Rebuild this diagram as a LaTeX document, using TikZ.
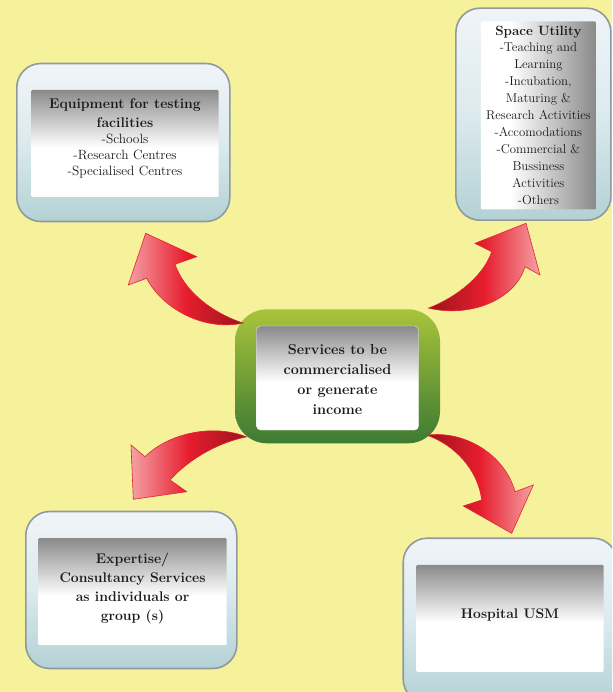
\documentclass[tikz,border=0pt]{standalone}
\usepackage{tikz}
\usetikzlibrary{positioning, shadows}
\usepackage{xcolor}

\definecolor{bgyellow}{HTML}{F6F29C}
\definecolor{boxedge}{HTML}{8F999E}
\definecolor{outertop}{HTML}{F0F4F8}
\definecolor{outermid}{HTML}{DCEAEE}
\definecolor{outerbot}{HTML}{B3D1D4}
\definecolor{graytop}{HTML}{8A8A8A}
\definecolor{hubtop}{HTML}{A8C43B}
\definecolor{hubbot}{HTML}{3D7A32}
\definecolor{arrowpink}{HTML}{F4A1A4}
\definecolor{arrowred}{HTML}{E71D2E}
\definecolor{arrowdark}{HTML}{9A141C}
\definecolor{arrowedge}{HTML}{E52330}
\definecolor{txt}{HTML}{1A1A1A}

\pgfdeclareverticalshading{innerv}{100bp}{color(0bp)=(white); color(25bp)=(white); color(48bp)=(white); color(75bp)=(graytop); color(100bp)=(graytop)}
\pgfdeclarehorizontalshading{innerh}{100bp}{color(0bp)=(white); color(25bp)=(white); color(38bp)=(white); color(75bp)=(graytop); color(100bp)=(graytop)}

\begin{document}
\begin{tikzpicture}[x=1pt, y=-1pt,
        outerbox/.style={rectangle, draw=boxedge, line width=1.6pt, rounded corners=24pt, top color=outertop, bottom color=outerbot, middle color=outermid},
        innerbox/.style={rectangle, rounded corners=1pt, shade, shading=innerv},
        label/.style={align=center, text=txt, font=\bfseries\fontsize{14}{19}\selectfont},
        redarrow/.style={draw=arrowedge, line width=0.6pt}
    ]
    \clip (0,0) rectangle (612,692);
    \fill[bgyellow] (0,0) rectangle (612,692);

    % EQUIPMENT
    \node[outerbox, minimum width=213pt, minimum height=158pt] (equipout) at (123.3,142.5) {};
    \node[innerbox, minimum width=187pt, minimum height=107pt] (equipin) at (125,143.3) {};
    \node[label, font=\fontsize{13.4}{16.3}\selectfont] (equiptxt) at (125,138.5) {{\bfseries\fontsize{14}{16.3}\selectfont Equipment for testing}\\[2.5pt]{\bfseries\fontsize{14}{16.3}\selectfont facilities}\\-Schools\\-Research Centres\\-Specialised Centres};

    % SPACE UTILITY
    \node[outerbox, minimum width=155pt, minimum height=212pt] (spaceout) at (533.4,114.2) {};
    \node[innerbox, shading=innerh, minimum width=115pt, minimum height=188pt] (spacein) at (538.4,115.5) {};
    \node[label, font=\fontsize{12.8}{16.9}\selectfont] (spacetxt) at (538.4,115) {{\bfseries\fontsize{13.4}{16.9}\selectfont Space Utility}\\-Teaching and\\Learning\\-Incubation,\\Maturing \&\\Research Activities\\-Accomodations\\-Commercial \&\\Bussiness\\Activities\\-Others};

    % SERVICES (CENTRE)
    \node[rectangle, rounded corners=32pt, top color=hubtop, bottom color=hubbot, minimum width=205pt, minimum height=134pt] (hub) at (337.5,376.3) {};
    \node[innerbox, rounded corners=4pt, draw=white!85!gray, minimum width=162pt, minimum height=104pt] (hubin) at (337.5,378) {};
    \node[label, font=\bfseries\fontsize{14.4}{20}\selectfont] (hubtxt) at (337.5,380) {Services to be\\commercialised\\or generate\\income};

    % EXPERTISE
    \node[outerbox, minimum width=211pt, minimum height=157pt] (expout) at (131.3,590) {};
    \node[innerbox, minimum width=188pt, minimum height=107pt] (expin) at (132.5,591.7) {};
    \node[label] (exptxt) at (132.5,588.7) {Expertise/\\Consultancy Services\\as individuals or\\group (s)};

    % HOSPITAL
    \node[outerbox, minimum width=214pt, minimum height=165pt] (hospout) at (510.2,620.7) {};
    \node[innerbox, minimum width=187pt, minimum height=107pt] (hospin) at (510,618.3) {};
    \node[label, font=\bfseries\fontsize{13.9}{19}\selectfont] (hosptxt) at (510,615) {Hospital USM};

    % Flechas
    \coordinate (tailTL) at ([shift={(8.3,14)}]hub.north west);
    \coordinate (tipTL) at (145.7,233.3);
    \coordinate (tailTR) at ([shift={(-11.7,-1)}]hub.north east);
    \coordinate (tipTR) at (526,223.3);
    \coordinate (tailBL) at ([shift={(11.7,-6.6)}]hub.south west);
    \coordinate (tipBL) at (133.3,499.3);
    \coordinate (tailBR) at ([shift={(-13.3,-8.3)}]hub.south east);
    \coordinate (tipBR) at (511.7,533.3);

    \shade[redarrow, left color=arrowpink, right color=arrowdark, middle color=arrowred]
        (tailTL) .. controls (210,312) and (184,290) .. (175,264.3) -- (196.7,256.7) -- (tipTL)
        -- (128.3,285) -- (146.7,278.3) .. controls (160,305) and (200,332) .. (tailTL) -- cycle;
    \shade[redarrow, left color=arrowdark, right color=arrowpink, middle color=arrowred]
        (tailTR) .. controls (450,300) and (482,280) .. (491.7,251.7) -- (475,243.3) -- (tipTR)
        -- (540,275) -- (525,266.7) .. controls (515,300) and (470,318) .. (tailTR) -- cycle;
    \shade[redarrow, left color=arrowpink, right color=arrowdark, middle color=arrowred]
        (tailBL) .. controls (215,424) and (170,432) .. (145,456.7) -- (131,445) -- (tipBL)
        -- (186.7,491.7) -- (170,480) .. controls (190,458) and (220,442) .. (tailBL) -- cycle;
    \shade[redarrow, left color=arrowdark, right color=arrowpink, middle color=arrowred]
        (tailBR) .. controls (465,430) and (505,455) .. (515,491.7) -- (533.3,485) -- (tipBR)
        -- (463.3,506) -- (481.7,500) .. controls (478,470) and (455,445) .. (tailBR) -- cycle;
\end{tikzpicture}
\end{document}
